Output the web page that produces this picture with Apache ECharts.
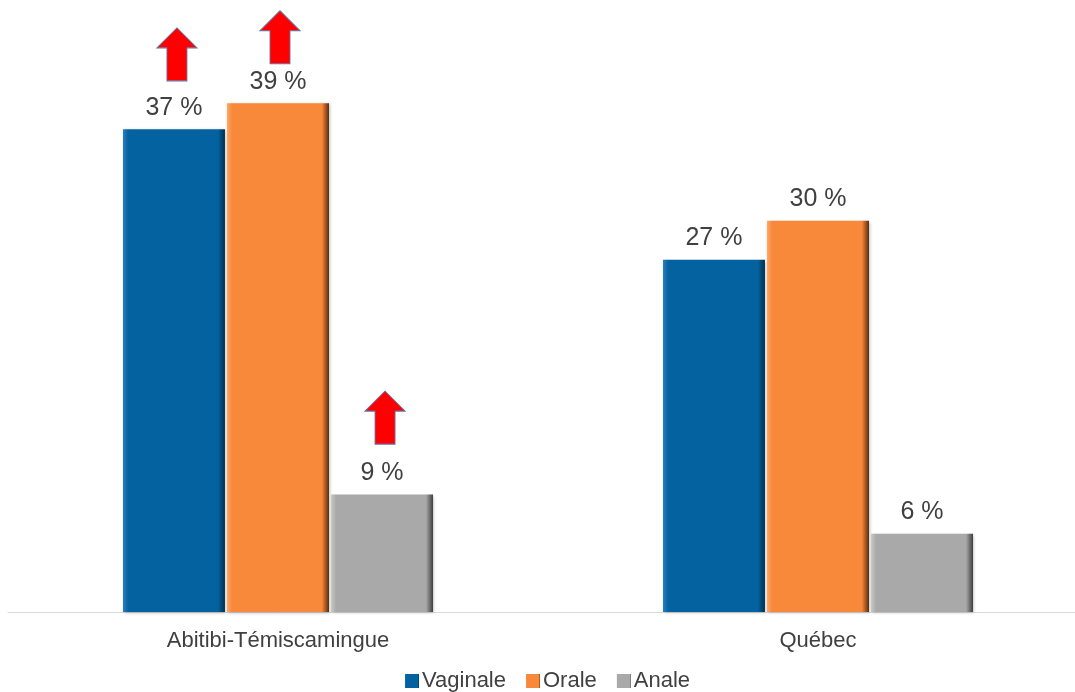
<!DOCTYPE html>
<html>
<head>
<meta charset="utf-8">
<script src="https://cdn.jsdelivr.net/npm/echarts@6/dist/echarts.min.js"></script>
<style>html,body{margin:0;padding:0;background:#fff;overflow:hidden;width:1075px;height:692px}#c{width:1088px;height:692px}</style>
</head>
<body>
<div id="c"></div>
<script>
const categories = ['Abitibi-Témiscamingue', 'Québec'];
const seriesNames = ['Vaginale', 'Orale', 'Anale'];
const vaginale = [37, 27];
const orale = [39, 30];
const anale = [9, 6];
// arrows marking significant differences (category index per series)
const arrowVaginale = [0];
const arrowOrale = [0];
const arrowAnale = [0];

const arrowPath = 'path://M20,0 L40,20 L30,20 L30,53 L10,53 L10,20 L0,20 Z';

function grad(light, main, dark) {
  return new echarts.graphic.LinearGradient(0, 0, 1, 0, [
    {offset: 0, color: light},
    {offset: 0.05, color: main},
    {offset: 0.93, color: main},
    {offset: 1, color: dark}
  ]);
}

const styles = [
  {c: grad('#2b80c2', '#0562a0', '#022f4d'), solid: '#0562a0', yOff: -75, xOff: 3},
  {c: grad('#ffa866', '#f8883a', '#5a2c0c'), solid: '#f8883a', yOff: -66, xOff: 2},
  {c: grad('#c8c8c8', '#a9a9a9', '#3e3e3e'), solid: '#a9a9a9', yOff: -77, xOff: 3}
];
const dataSets = [vaginale, orale, anale];
const arrows = [arrowVaginale, arrowOrale, arrowAnale];
const FONT = 'Liberation Sans, Arial, sans-serif';

const series = seriesNames.map((name, i) => ({
  name: name,
  type: 'bar',
  barWidth: 102,
  barGap: '2%',
  data: dataSets[i],
  itemStyle: {color: styles[i].c, shadowColor: 'rgba(0,0,0,0.25)', shadowBlur: 3, shadowOffsetX: 1, shadowOffsetY: 1},
  label: {
    show: true, position: 'top', distance: 9,
    formatter: p => p.value + ' %',
    fontFamily: FONT, fontSize: 25, color: '#404040'
  },
  markPoint: {
    symbol: arrowPath,
    symbolSize: [40, 53],
    symbolOffset: [styles[i].xOff, styles[i].yOff],
    itemStyle: {color: '#ff0000', borderColor: '#6b6f9e', borderWidth: 1},
    label: {show: false},
    data: arrows[i].map(ci => ({coord: [ci, dataSets[i][ci]]}))
  }
}));

const chart = echarts.init(document.getElementById('c'));
chart.setOption({
  animation: false,
  backgroundColor: '#ffffff',
  color: styles.map(s => s.solid),
  legend: {
    top: 665, left: 400,
    itemWidth: 14, itemHeight: 14, itemGap: 20,
    icon: 'rect',
    textStyle: {fontFamily: FONT, fontSize: 22, color: '#404040', padding: [0, 0, 0, -2]},
    data: seriesNames
  },
  grid: {left: 8, right: 0, top: 25, bottom: 80},
  xAxis: {
    type: 'category',
    data: categories,
    axisLine: {lineStyle: {color: '#d9d9d9', width: 1}},
    axisTick: {show: false},
    axisLabel: {margin: 18, fontFamily: FONT, fontSize: 22, color: '#404040'}
  },
  yAxis: {type: 'value', min: 0, max: 45, show: false, splitLine: {show: false}},
  series: series
});
</script>
</body>
</html>
